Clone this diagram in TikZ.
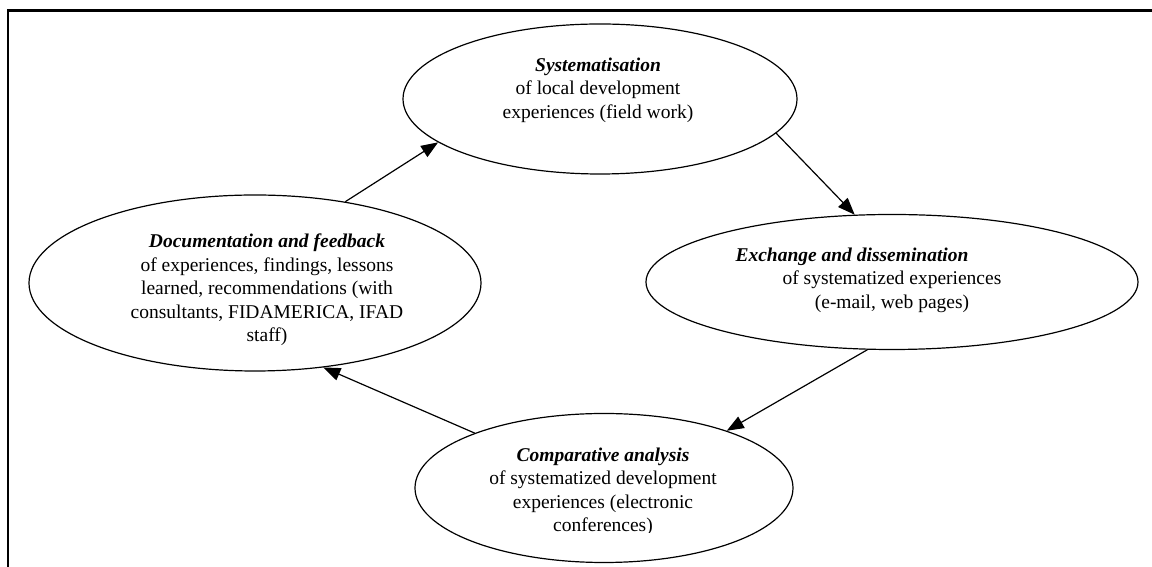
\documentclass[tikz,border=0pt]{standalone}
\usepackage{fontspec}
\setmainfont{Liberation Serif}
\usetikzlibrary{arrows.meta,shapes}

\begin{document}
\begin{tikzpicture}[x=1pt,y=1pt,
  every node/.style={font=\fontsize{19.5}{23.5}\selectfont},
  bubble/.style={ellipse,draw,line width=1.2pt,inner sep=0pt},
  caption/.style={align=center,inner sep=0pt},
  flow/.style={line width=1.2pt,-{Triangle[length=17pt,width=13pt]}}]

  \useasboundingbox (0,0) rectangle (1152,567);

  % frame, top and left side only
  \draw[line width=2.2pt] (8,0) -- (8,556.5) -- (1152,556.5);

  % the four stages
  \node[bubble,minimum width=394pt,minimum height=150pt] (sys) at (600,468) {};
  \node[bubble,minimum width=452pt,minimum height=176pt] (doc) at (255,284) {};
  \node[bubble,minimum width=492pt,minimum height=135pt] (exc) at (892,285) {};
  \node[bubble,minimum width=378pt,minimum height=149pt] (cmp) at (604,79) {};

  % texts
  \node[caption] (sysText) at (598,477)
    {\textbf{\textit{Systematisation}}\\
     of local development\\
     experiences (field work)};
  \node[caption] (docText) at (267,277)
    {\textbf{\textit{Documentation and feedback}}\\
     of experiences, findings, lessons\\
     learned, recommendations (with\\
     consultants, FIDAMERICA, IFAD\\
     staff)};
  \node[caption] (excText) at (892,287)
    {\textbf{\textit{Exchange and dissemination}}\hspace*{80pt}\\
     of systematized experiences\\
     (e-mail, web pages)};
  \begin{scope}
    \clip (0,34) rectangle (1152,567);
    \node[caption] (cmpText) at (603,75)
      {\textbf{\textit{Comparative analysis}}\\
       of systematized development\\
       experiences (electronic\\
       conferences)};
  \end{scope}

  % cycle
  \draw[flow] (doc.42) -- (sys.195);
  \draw[flow] (sys.349) -- (exc.119);
  \draw[flow] (exc.250) -- (cmp.25);
  \draw[flow] (cmp.157) -- (doc.309);
\end{tikzpicture}
\end{document}
